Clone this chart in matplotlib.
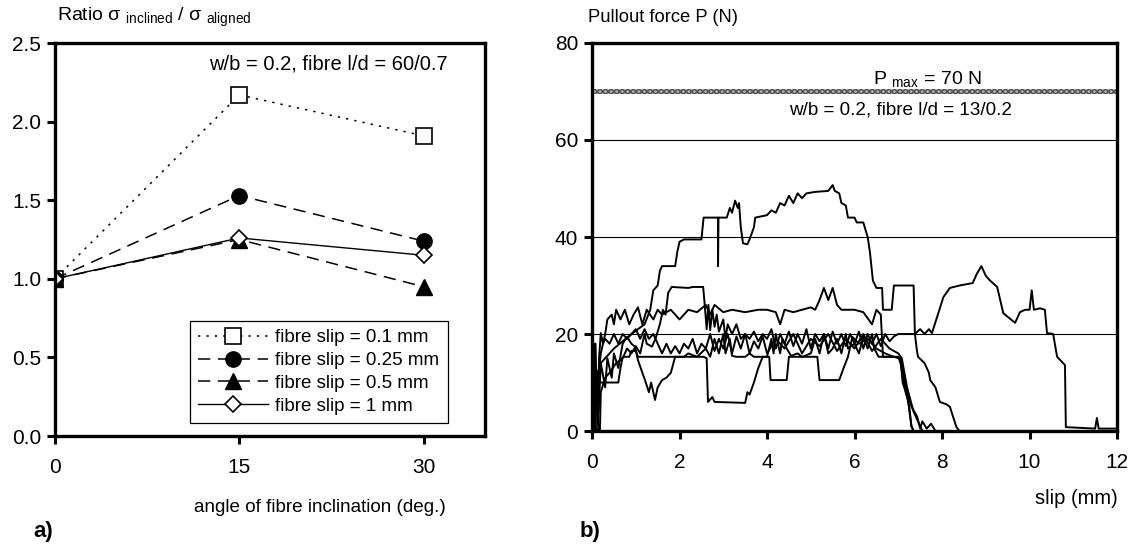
import matplotlib
matplotlib.use("Agg")
import matplotlib.pyplot as plt

plt.rcParams["font.family"] = ["Liberation Sans", "DejaVu Sans"]
plt.rcParams["mathtext.fontset"] = "custom"
plt.rcParams["mathtext.rm"] = "Liberation Sans"

# ---- panel a) data ----
angles = [0, 15, 30]
ratio_slip_01 = [1.0, 2.17, 1.91]
ratio_slip_025 = [1.0, 1.53, 1.24]
ratio_slip_05 = [1.0, 1.25, 0.95]
ratio_slip_1 = [1.0, 1.26, 1.15]
xticks_a = [0, 15, 30]
yticks_a = [0.0, 0.5, 1.0, 1.5, 2.0, 2.5]

# ---- panel b) data (slip in mm, force in N) ----
slip_1 = [0, 0.05, 0.2, 0.5, 0.9, 1.2, 1.33, 1.4, 1.5, 1.55, 1.6, 1.9, 1.95, 2.0, 2.1, 2.5,
          2.55, 2.88, 2.88, 2.89, 3.08, 3.15, 3.2, 3.27, 3.33, 3.36, 3.4, 3.45, 3.55, 3.6,
          3.7, 3.73, 4.0, 4.1, 4.2, 4.3, 4.4, 4.5, 4.6, 4.7, 4.8, 4.9, 5.1, 5.4, 5.5, 5.55,
          5.65, 5.7, 5.8, 5.85, 6.0, 6.05, 6.2, 6.3, 6.35, 6.42, 6.5, 6.63, 6.65, 6.85, 6.9,
          7.35, 7.38, 7.5, 7.6, 7.7, 7.77, 7.95, 8.03, 8.18, 8.4, 8.7, 8.8, 8.9, 9.0, 9.1,
          9.26, 9.4, 9.67, 9.78, 9.9, 10.0, 10.05, 10.1, 10.24, 10.35, 10.4, 10.54, 10.63,
          10.81, 10.83, 11.5, 11.54, 11.58, 12]
force_1 = [0, 10, 14, 17, 20, 22, 25, 29, 30, 33, 34, 34, 37, 39, 39.5, 39.5,
           44, 44, 34, 44, 44, 46, 45, 47.5, 46, 47, 42, 38.7, 38.5, 39.5,
           42, 44, 44.5, 45.5, 45, 47, 46.5, 48.5, 47, 49, 48, 49, 49.3, 49.5, 50.7, 49.5,
           49, 47, 46.5, 44, 44, 43, 43, 40, 37, 31, 29.5, 29.5, 25, 25, 30,
           30, 20, 21, 20, 21, 20.2, 25.3, 27.6, 29.5, 30, 30.5, 32.5, 34, 32, 31,
           29.7, 24.3, 22.3, 24.5, 25, 25, 29, 25, 25.3, 25, 20.2, 20, 15.3,
           13.6, 0.8, 0.5, 2.7, 0.5, 0.5]

slip_2 = [0, 0.1, 0.2, 0.3, 0.35, 0.45, 0.5, 0.55, 0.65, 0.75, 0.85, 0.95, 1.05, 1.15,
          1.25, 1.4, 1.5, 1.6, 1.8, 2.0, 2.2, 2.4, 2.6, 2.7, 2.8, 3.0, 3.2, 3.5, 3.8, 4.0,
          4.2, 4.3, 4.4, 4.6, 4.8, 5.0, 5.1, 5.2, 5.3, 5.4, 5.5, 5.6, 5.7, 6.0, 6.2, 6.4,
          6.5, 6.6, 6.65, 7.0, 7.05, 7.15, 7.25, 7.3, 7.35, 12]
force_2 = [0, 8, 16, 20, 23, 24, 22, 25, 23, 25, 22, 24, 25.5, 22,
           25, 23, 25, 24, 25, 23, 25, 24.5, 26, 24, 26, 24.5, 25, 24.5, 25, 25,
           24.5, 22, 25, 24.5, 25, 25.5, 25, 27, 29.5, 27, 29.5, 26, 25, 25, 24.5, 22,
           25, 24, 15.3, 15.3, 14, 9, 5, 1, 0, 0]

slip_3 = [0, 0.06, 0.08, 0.12, 0.18, 0.2, 0.3, 0.4, 0.55, 0.7, 0.8, 0.9, 1.0, 1.1, 1.2,
          1.25, 1.37, 1.45, 1.55, 1.62, 1.68, 1.74, 1.82, 2.2, 2.3, 2.54, 2.58, 2.62, 2.66,
          2.7, 2.75, 2.8, 2.85, 2.9, 3.0, 3.05, 3.1, 3.2, 3.3, 3.4, 3.5, 3.6, 3.7, 3.8, 3.9,
          4.0, 4.1, 4.2, 4.3, 4.4, 4.5, 4.6, 4.7, 4.8, 4.9, 5.0, 5.1, 5.2, 5.3, 5.4, 5.5,
          5.6, 5.7, 5.8, 5.9, 6.0, 6.1, 6.2, 6.3, 6.4, 6.5, 6.6, 6.7, 6.8, 6.9, 7.0, 7.38,
          7.42, 7.45, 7.6, 7.7, 7.73, 7.85, 7.95, 8.1, 8.18, 8.25, 8.33, 8.4, 12]
force_3 = [0, 0, 18, 2, 0, 8, 11, 12, 14, 15, 17, 16, 17.5, 16, 20,
           18, 17.4, 19, 22, 25, 24, 28.5, 29.7, 29.5, 29.7, 29.7, 25.5, 21, 26,
           20.8, 25, 21.5, 24, 20.5, 23, 19, 22, 20, 22, 19, 20, 19, 20.5, 18.5, 20,
           19, 21, 17, 20, 18, 20.5, 17.5, 20, 18, 21, 17, 20, 18.5, 20, 17, 20.5,
           18, 20, 17.5, 20, 18, 20.5, 17, 20, 18, 20, 17.5, 20, 18.5, 19.5, 20, 20,
           17, 15.3, 14, 12, 10.5, 9, 6, 5.5, 5, 3, 0.8, 0, 0]

slip_4 = [0, 0.05, 0.1, 0.15, 0.3, 0.6, 0.65, 0.7, 0.85, 0.9, 1.0, 1.05, 2.55, 2.62, 2.65,
          2.75, 2.8, 3.5, 3.55, 3.6, 3.7, 3.8, 3.9, 4.05, 4.08, 4.45, 4.5, 5.15, 5.2, 5.65,
          5.75, 5.85, 5.95, 6.1, 6.3, 6.5, 6.7, 6.9, 7.05, 7.1, 7.22, 7.3, 7.35, 12]
force_4 = [0, 10, 6, 10, 10, 10, 13, 15.3, 15.3, 16.5, 16.5, 15.3, 15.3, 15, 6,
           7, 6, 5.8, 8, 7.5, 10, 13, 15.3, 15.3, 10.5, 10.5, 15.3, 15.3, 10.5, 10.5,
           13, 15.3, 19.4, 18, 19, 17, 16, 15.3, 15, 10, 6.5, 1, 0, 0]

slip_5 = [0, 0.08, 0.1, 0.15, 0.2, 0.3, 0.35, 0.45, 0.5, 0.6, 0.7, 0.8, 0.9, 0.98, 1.05,
          1.15, 1.21, 1.3, 1.35, 1.44, 1.5, 1.6, 1.7, 1.8, 1.9, 2.1, 2.2, 2.4, 2.6, 2.7,
          2.8, 2.9, 3.0, 3.05, 3.15, 3.2, 3.3, 3.5, 3.6, 3.7, 4.0, 4.1, 4.15, 4.2, 4.3,
          4.35, 4.45, 4.55, 4.7, 4.8, 5.0, 5.1, 5.2, 5.3, 5.4, 5.5, 5.6, 5.7, 5.8, 5.85,
          6.0, 6.1, 6.2, 6.3, 6.4, 6.45, 6.55, 6.7, 6.9, 7.05, 7.1, 7.2, 7.3, 7.43, 7.5,
          7.55, 7.65, 7.75, 7.85, 12]
force_5 = [0, 0, 12, 4, 14, 9, 15, 11, 16, 13, 18, 19.4, 18, 17.4, 14.6,
           12, 10.5, 8, 10, 6.4, 9, 10.5, 11, 12, 15.3, 15.3, 16, 15.3, 17, 15.3,
           19, 16, 20, 16, 19, 15.5, 15.3, 15.3, 16, 15.3, 15.3, 19, 16, 20, 16,
           19, 17, 15.5, 16, 15.3, 16, 19, 16, 20, 16, 17, 19, 16, 20, 17,
           18, 16, 19.5, 17, 20, 17, 15.3, 15.3, 15.3, 15, 13, 8, 5, 3, 0.5,
           2, 0.5, 1.5, 0, 0]

slip_6 = [0, 0.04, 0.05, 0.07, 0.1, 0.14, 0.16, 0.2, 0.25, 0.3, 0.4, 0.5, 0.6, 0.7, 0.8,
          0.9, 1.0, 1.1, 1.2, 1.3, 1.4, 1.5, 1.6, 1.7, 1.8, 1.9, 2.0, 2.1, 2.2, 2.3, 2.4,
          2.5, 2.6, 2.7, 2.8, 2.9, 3.0, 3.1, 3.2, 3.3, 3.4, 3.5, 3.6, 3.7, 3.8, 3.9, 4.0,
          4.2, 4.4, 4.6, 4.8, 5.0, 5.2, 5.4, 5.6, 5.8, 6.0, 6.2, 6.4, 6.6, 6.8, 7.0, 7.08,
          7.2, 7.35, 7.45, 7.55, 12]
force_6 = [0, 0, 18, 2, 0, 0, 15, 20.2, 18, 19, 18, 20, 18, 20, 19,
           20, 21, 19, 21, 19, 20, 18, 16, 18, 16, 17.5, 16, 18, 17, 19, 16,
           18, 17, 20, 16.5, 19, 17, 20, 16, 19.5, 17, 20, 16, 18.5, 17, 19.5, 16,
           19, 17, 20, 16, 19, 17.5, 20, 16.5, 19, 17, 20, 16.5, 19, 17, 16, 15,
           9, 4, 2, 0, 0]

pullout_slips = [slip_1, slip_2, slip_3, slip_4, slip_5, slip_6]
pullout_forces = [force_1, force_2, force_3, force_4, force_5, force_6]
p_max = 70
xticks_b = [0, 2, 4, 6, 8, 10, 12]
yticks_b = [0, 20, 40, 60, 80]

fig = plt.figure(figsize=(11.29, 5.49), dpi=100)

# ---------------- panel a) ----------------
ax1 = fig.add_axes([0.0487, 0.2058, 0.3809, 0.7158])
ax1.plot(angles, ratio_slip_01, color="black", lw=1.1, ls=(0, (1.5, 4)),
         marker="s", ms=11, mfc="white", mec="black", mew=1.2, label="fibre slip = 0.1 mm")
ax1.plot(angles, ratio_slip_025, color="black", lw=1.1, ls=(0, (8, 5)),
         marker="o", ms=11, mfc="black", mec="black", label="fibre slip = 0.25 mm")
ax1.plot(angles, ratio_slip_05, color="black", lw=1.1, ls=(0, (8, 5)),
         marker="^", ms=11, mfc="black", mec="black", label="fibre slip = 0.5 mm")
ax1.plot(angles, ratio_slip_1, color="black", lw=1.0, ls="-",
         marker="D", ms=8, mfc="white", mec="black", mew=1.2, label="fibre slip = 1 mm")
ax1.set_xlim(0, 35)
ax1.set_ylim(0, 2.5)
ax1.set_xticks(xticks_a)
ax1.set_yticks(yticks_a)
ax1.set_yticklabels([f"{v:.1f}" for v in yticks_a])
ax1.text(0.912, 0.947, "w/b = 0.2, fibre l/d = 60/0.7", transform=ax1.transAxes,
         ha="right", va="center", fontsize=14.5)
leg = ax1.legend(loc="lower left", bbox_to_anchor=(0.314, 0.033), fontsize=13.5,
                 handlelength=3.7, handletextpad=0.4, borderpad=0.45, labelspacing=0.3,
                 borderaxespad=0, fancybox=False, framealpha=1, edgecolor="black")
leg.get_frame().set_linewidth(0.9)

# ---------------- panel b) ----------------
ax2 = fig.add_axes([0.5244, 0.2149, 0.465, 0.7068])
for gy in [20, 40, 60]:
    ax2.axhline(gy, color="black", lw=0.8, zorder=1)
ax2.axhspan(p_max - 0.6, p_max + 0.6, facecolor="#b0b0b0", edgecolor="#505050",
            hatch="xxxxxx", lw=0, zorder=1)
for s, f in zip(pullout_slips, pullout_forces):
    ax2.plot(s, f, color="black", lw=1.4, zorder=3)
ax2.set_xlim(0, 12)
ax2.set_ylim(0, 80)
ax2.set_xticks(xticks_b)
ax2.set_yticks(yticks_b)
ax2.text(7.66, 72.5, "P $_{\\rm max}$ = 70 N", ha="center", va="center", fontsize=14)
ax2.text(7.06, 66.2, "w/b = 0.2, fibre l/d = 13/0.2", ha="center", va="center", fontsize=13.6)

for ax in (ax1, ax2):
    for sp in ax.spines.values():
        sp.set_linewidth(2.4)
    ax.tick_params(direction="out", length=6, width=2.2, labelsize=15)
ax1.tick_params(axis="x", pad=10)
ax1.tick_params(axis="y", pad=4)
ax2.tick_params(axis="x", pad=10)
ax2.tick_params(axis="y", pad=4)

fig.text(57 / 1129, 1 - 17 / 549, "Ratio σ $_{\\rm inclined}$ / σ $_{\\rm aligned}$",
         ha="left", va="center", fontsize=14)
fig.text(588 / 1129, 1 - 17 / 549, "Pullout force P (N)", ha="left", va="center", fontsize=13.2)
fig.text(320 / 1129, 1 - 507 / 549, "angle of fibre inclination (deg.)",
         ha="center", va="center", fontsize=13.6)
fig.text(1118 / 1129, 1 - 498 / 549, "slip (mm)", ha="right", va="center", fontsize=14.5)
fig.text(33 / 1129, 1 - 531 / 549, "a)", ha="left", va="center", fontsize=16, fontweight="bold")
fig.text(580 / 1129, 1 - 531 / 549, "b)", ha="left", va="center", fontsize=16, fontweight="bold")

fig.savefig("out.png", dpi=100)
